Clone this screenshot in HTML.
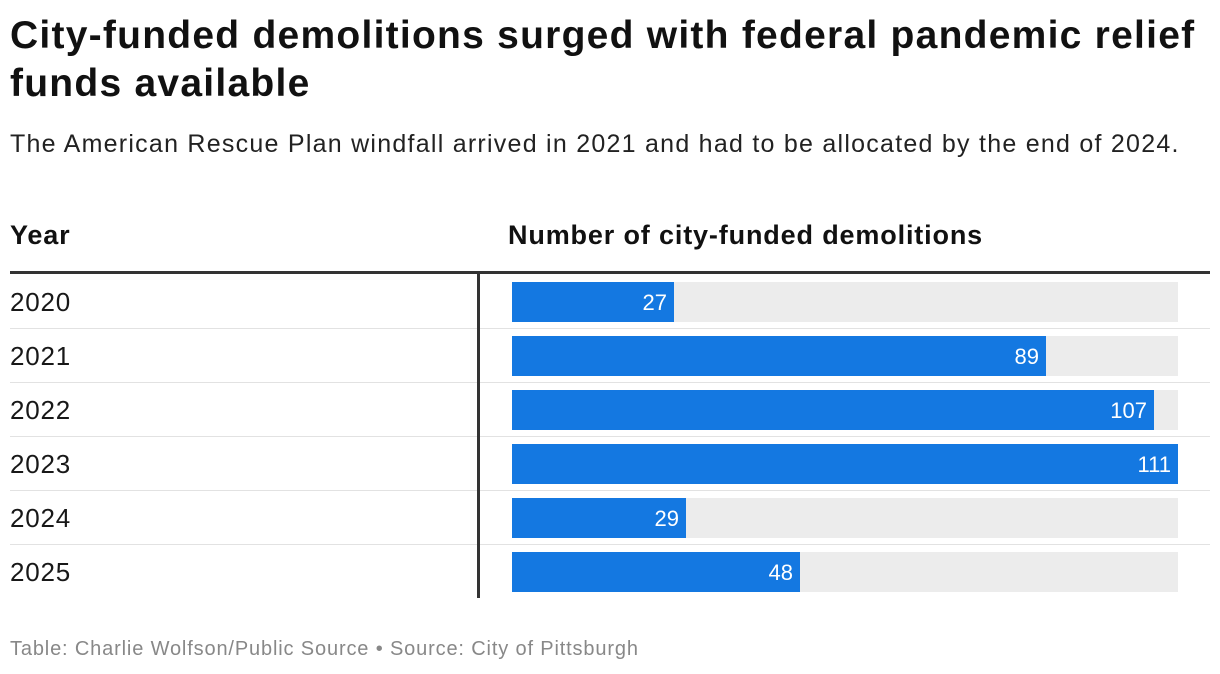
<!DOCTYPE html>
<html>
<head>
<meta charset="utf-8">
<style>
  html, body { margin: 0; padding: 0; background: #fff; }
  body { width: 1220px; height: 674px; position: relative; overflow: hidden; font-family: "Liberation Sans", Arial, sans-serif; color: #181818; }
  .abs { position: absolute; white-space: nowrap; }
  #title { left: 10px; top: 12px; font-size: 39px; font-weight: bold; line-height: 48px; color: #111; letter-spacing: 1.25px; }
  #subtitle { left: 10px; top: 130px; font-size: 25px; color: #222; letter-spacing: 1.25px; }
  .hdr { top: 220px; font-size: 27px; font-weight: bold; color: #111; letter-spacing: 0.85px; }
  #footer { left: 10px; top: 638px; font-size: 20px; color: #888; letter-spacing: 0.85px; }
</style>
</head>
<body>
<div class="abs" id="title">City-funded demolitions surged with federal pandemic relief<br>funds available</div>
<div class="abs" id="subtitle">The American Rescue Plan windfall arrived in 2021 and had to be allocated by the end of 2024.</div>
<div class="abs hdr" style="left:10px">Year</div>
<div class="abs hdr" style="left:508px">Number of city-funded demolitions</div>
<svg id="chart" class="abs" style="left:0;top:0" width="1220" height="674"></svg>
<div class="abs" id="footer">Table: Charlie Wolfson/Public Source • Source: City of Pittsburgh</div>
<script>
const years = ["2020", "2021", "2022", "2023", "2024", "2025"];
const demolitions = [27, 89, 107, 111, 29, 48];
const maxValue = 111;

const svg = document.getElementById('chart');
const NS = 'http://www.w3.org/2000/svg';
const barX0 = 512, barW = 666, rowTop = 274, rowH = 54, barH = 40;
function xScale(v) { return barX0 + v / maxValue * barW; }
function rowY(i) { return rowTop + i * rowH; }
function mk(tag, attrs) { const e = document.createElementNS(NS, tag); for (const k in attrs) e.setAttribute(k, attrs[k]); svg.appendChild(e); return e; }

const headerRule = mk('rect', {x: 10, y: 271, width: 1200, height: 3, fill: '#333'});



years.forEach((y, i) => {
  const yT = rowY(i);
  if (i > 0) {
    const sep = mk('rect', {x: 10, y: yT, width: 1200, height: 1, fill: '#e2e2e2'});
    
    
  }
  const lbl = mk('text', {x: 10, y: yT + 37, 'font-size': 26, 'letter-spacing': 0.8, fill: '#181818', 'font-family': 'Liberation Sans, Arial, sans-serif'});
  lbl.textContent = y;
  
  
  const bg = mk('rect', {x: barX0, y: yT + 8, width: barW, height: barH, fill: '#ececec'});
  
  
  const bar = mk('rect', {x: barX0, y: yT + 8, width: xScale(demolitions[i]) - barX0, height: barH, fill: '#1478e1'});
  
  
  const val = mk('text', {x: xScale(demolitions[i]) - 7, y: yT + 36, 'font-size': 22, fill: '#fff', 'text-anchor': 'end', 'font-family': 'Liberation Sans, Arial, sans-serif'});
  val.textContent = demolitions[i];
  
  
});

const vline = mk('rect', {x: 477, y: 274, width: 3, height: rowH * years.length, fill: '#333'});


</script>
</body>
</html>
